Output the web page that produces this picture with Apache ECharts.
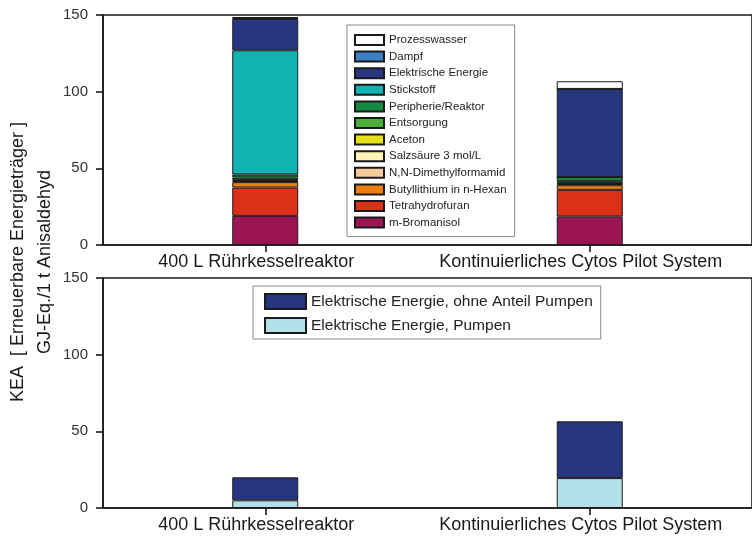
<!DOCTYPE html>
<html>
<head>
<meta charset="utf-8">
<script src="https://cdn.jsdelivr.net/npm/echarts@6/dist/echarts.min.js"></script>
<style>
html,body{margin:0;padding:0;background:#fff;}
#c{width:752px;height:537px;}
</style>
</head>
<body>
<div id="c"></div>
<script>
// ---- data ----
var categories = ['400 L Rührkesselreaktor', 'Kontinuierliches Cytos Pilot System'];
var yTicks = [0, 50, 100, 150];

// top chart (stacked, bottom to top)
var mBromanisol   = [19, 18.5];
var tetrahydrofuran = [18.5, 17.5];
var butyllithium  = [3.5, 3];
var dimethylformamid = [0.7, 0.8];
var salzsaeure    = [0.5, 0.4];
var aceton        = [0.5, 0.4];
var entsorgung    = [1.3, 1];
var peripherie    = [2, 2.7];
var stickstoff    = [81, 0];
var elektrisch    = [20.5, 57.5];
var dampf         = [0.5, 0];
var prozesswasser = [0.5, 5];

// bottom chart
var pumpen     = [5, 19.5];
var ohnePumpen = [15, 37];

var topSeries = [
  ['m-Bromanisol', mBromanisol, '#9b1553'],
  ['Tetrahydrofuran', tetrahydrofuran, '#db3119'],
  ['Butyllithium in n-Hexan', butyllithium, '#f07d0f'],
  ['N,N-Dimethylformamid', dimethylformamid, '#f8c99b'],
  ['Salzsäure 3 mol/L', salzsaeure, '#fff4b5'],
  ['Aceton', aceton, '#e6df1a'],
  ['Entsorgung', entsorgung, '#4bae3b'],
  ['Peripherie/Reaktor', peripherie, '#148a40'],
  ['Stickstoff', stickstoff, '#10b2b2'],
  ['Elektrische Energie', elektrisch, '#28357f'],
  ['Dampf', dampf, '#3b7fc6'],
  ['Prozesswasser', prozesswasser, '#ffffff']
];
var botSeries = [
  ['Elektrische Energie, Pumpen', pumpen, '#b3dfe8'],
  ['Elektrische Energie, ohne Anteil Pumpen', ohnePumpen, '#27347f']
];

var chart = echarts.init(document.getElementById('c'), null, {renderer:'canvas'});
var FONT = 'Liberation Sans, Arial, sans-serif';
var axisColor = '#1a1a1a';

function xAx(idx){
  return {
    type:'category', gridIndex:idx, data:categories,
    axisLine:{lineStyle:{color:axisColor, width:1.6}},
    axisTick:{show:true, alignWithLabel:true, length:7, lineStyle:{color:axisColor, width:1.6}},
    axisLabel:{interval:0, fontFamily:FONT, fontSize:18, color:'#1a1a1a', margin:8, padding:[0,18,0,0]}
  };
}
function yAx(idx){
  return {
    type:'value', gridIndex:idx, min:0, max:150, interval:50,
    axisLine:{show:true, lineStyle:{color:axisColor, width:1.6}},
    axisTick:{show:true, length:7, lineStyle:{color:axisColor, width:1.6}},
    axisLabel:{fontFamily:FONT, fontSize:15, color:'#333', margin:15,
      formatter:function(v){return yTicks.indexOf(v)>=0 ? String(v) : '';}},
    splitLine:{show:false}
  };
}

var series = [];
topSeries.forEach(function(s){
  series.push({
    name:s[0], type:'bar', stack:'top', xAxisIndex:0, yAxisIndex:0,
    data:s[1], barWidth:66,
    itemStyle:{color:s[2], borderColor:'#1a1a1a', borderWidth:1},
    emphasis:{disabled:true}
  });
});
botSeries.forEach(function(s){
  series.push({
    name:s[0], type:'bar', stack:'bot', xAxisIndex:1, yAxisIndex:1,
    data:s[1], barWidth:66,
    itemStyle:{color:s[2], borderColor:'#1a1a1a', borderWidth:1},
    emphasis:{disabled:true}
  });
});

var topLegendData = topSeries.map(function(s){return s[0];}).reverse();
// legend order as in original: Peripherie above Entsorgung
var botLegendData = botSeries.map(function(s){return s[0];}).reverse();

chart.setOption({
  backgroundColor:'#fff',
  animation:false,
  grid:[
    {left:103, top:15, width:658, height:230, show:true, borderColor:axisColor, borderWidth:1.6, backgroundColor:'transparent'},
    {left:103, top:278, width:658, height:230, show:true, borderColor:axisColor, borderWidth:1.6, backgroundColor:'transparent'}
  ],
  xAxis:[xAx(0), xAx(1)],
  yAxis:[yAx(0), yAx(1)],
  legend:[
    {
      data:topLegendData, orient:'vertical', left:347, top:25,
      icon:'rect', itemWidth:29, itemHeight:10, itemGap:4.6,
      padding:[9,8,8,7], borderColor:'#888', borderWidth:1, backgroundColor:'#fff',
      textStyle:{fontFamily:FONT, fontSize:11.5, color:'#222'},
      selectedMode:false
    },
    {
      data:botLegendData, orient:'vertical', left:253, top:286,
      icon:'rect', itemWidth:41, itemHeight:15, itemGap:7,
      padding:[7,8,5,11], borderColor:'#888', borderWidth:1, backgroundColor:'#fff',
      textStyle:{fontFamily:FONT, fontSize:15.5, color:'#222'},
      selectedMode:false
    }
  ],
  graphic:[
    {type:'text', x:18, y:262, rotation:Math.PI/2,
      style:{text:'KEA  [ Erneuerbare Energieträger ]', font:'18px Liberation Sans, Arial, sans-serif', fill:'#1a1a1a', textAlign:'center', textVerticalAlign:'middle'}},
    {type:'text', x:45, y:262, rotation:Math.PI/2,
      style:{text:'GJ-Eq./1 t Anisaldehyd', font:'18px Liberation Sans, Arial, sans-serif', fill:'#1a1a1a', textAlign:'center', textVerticalAlign:'middle'}}
  ],
  series:series
});
</script>
</body>
</html>
